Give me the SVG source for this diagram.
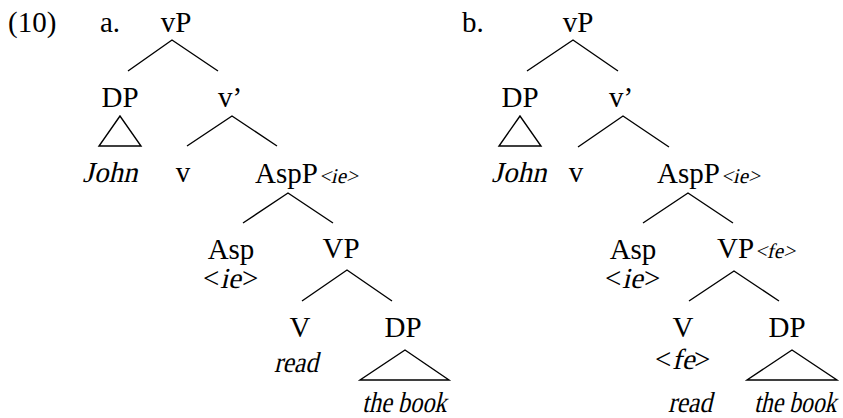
<svg xmlns="http://www.w3.org/2000/svg" width="843" height="418" viewBox="0 0 843 418">
<style>
text{font-family:"Liberation Serif","Times New Roman",serif;font-size:29px;fill:#000}
.m{text-anchor:middle}
.sub{font-size:21px}
.ln{stroke:#000;stroke-width:1.4;fill:none}
</style>
<rect width="843" height="418" fill="#fff"/>
<g id="labels">
<text x="8" y="32">(10)</text>
<text x="100" y="32">a.</text>
<text x="462" y="32">b.</text>
</g>
<g id="connectors">
<path class="ln" d="M128,71 L172,40 L218,71"/>
<polygon class="ln" points="120,116 99,146 141,146"/>
<path class="ln" d="M187,146 L232,116 L277,146"/>
<path class="ln" d="M243,223 L288,193 L333,223"/>
<path class="ln" d="M302,301 L347,270 L392,301"/>
<polygon class="ln" points="405,350 360,380 449,380"/>
<path class="ln" d="M527,71 L573,40 L618,71"/>
<polygon class="ln" points="520,116 499,146 541,146"/>
<path class="ln" d="M578,147 L623,116 L669,147"/>
<path class="ln" d="M643,223 L688,193 L733,223"/>
<path class="ln" d="M689,301 L734,271 L779,301"/>
<polygon class="ln" points="792,350 747,380 837,380"/>
</g>
<g id="a-vP"><text class="m" x="176" y="32">vP</text></g>
<g id="a-DP"><text class="m" x="120" y="107">DP</text></g>
<g id="a-vbar"><text class="m" x="230" y="107">v’</text></g>
<g id="a-John"><text class="m" transform="translate(110,182) skewX(-13)">John</text></g>
<g id="a-v"><text class="m" x="183" y="182">v</text></g>
<g id="a-AspP"><text x="255" y="183">AspP</text><text class="sub" transform="translate(319,183) skewX(-13)">&lt;ie&gt;</text></g>
<g id="a-Asp"><text class="m" x="231" y="259">Asp</text><text x="203" y="288">&lt;</text><text transform="translate(220,288) skewX(-13)">ie</text><text x="242" y="288">&gt;</text></g>
<g id="a-VP"><text class="m" x="341" y="258">VP</text></g>
<g id="a-V"><text class="m" x="300" y="337">V</text><text class="m" transform="translate(296,372) skewX(-13) scale(0.88,1)">read</text></g>
<g id="a-DP2"><text class="m" x="403" y="337">DP</text><text transform="translate(362,412) skewX(-13) scale(0.84,1)">the book</text></g>
<g id="b-vP"><text class="m" x="578" y="32">vP</text></g>
<g id="b-DP"><text class="m" x="520" y="107">DP</text></g>
<g id="b-vbar"><text class="m" x="621" y="107">v’</text></g>
<g id="b-John"><text class="m" transform="translate(519,182) skewX(-13)">John</text></g>
<g id="b-v"><text class="m" x="576" y="182">v</text></g>
<g id="b-AspP"><text x="657" y="183">AspP</text><text class="sub" transform="translate(721,183) skewX(-13)">&lt;ie&gt;</text></g>
<g id="b-Asp"><text class="m" x="633" y="259">Asp</text><text x="605" y="288">&lt;</text><text transform="translate(622,288) skewX(-13)">ie</text><text x="644" y="288">&gt;</text></g>
<g id="b-VP"><text x="717" y="258">VP</text><text class="sub" transform="translate(755,258) skewX(-13)">&lt;fe&gt;</text></g>
<g id="b-V"><text class="m" x="683" y="337">V</text><text x="655" y="369">&lt;</text><text transform="translate(672,369) skewX(-13)">fe</text><text x="694" y="369">&gt;</text><text class="m" transform="translate(690,412) skewX(-13) scale(0.88,1)">read</text></g>
<g id="b-DP2"><text class="m" x="787" y="337">DP</text><text transform="translate(754,412) skewX(-13) scale(0.82,1)">the book</text></g>
</svg>
